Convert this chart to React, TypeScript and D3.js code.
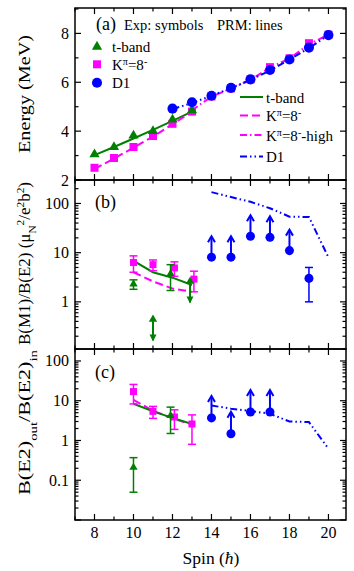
import React, { useEffect, useRef } from 'react';
import * as d3 from 'd3';

// ---- panel (a): energies (MeV) ----
const tBandSpin = [8, 9, 10, 11, 12, 13];
const tBandEnergy = [3.05, 3.35, 3.82, 4.0, 4.47, 4.85];
const k8Spin = [8, 9, 10, 11, 12, 13, 14, 15, 16, 17, 18, 19, 20];
const k8Energy = [2.5, 2.9, 3.35, 3.8, 4.3, 4.8, 5.42, 5.75, 6.12, 6.62, 6.98, 7.6, 7.95];
const d1Spin = [12, 13, 14, 15, 16, 17, 18, 19, 20];
const d1Energy = [4.92, 5.18, 5.45, 5.77, 6.12, 6.5, 6.93, 7.42, 7.93];
// PRM lines
const tBandPrmEnergy = [3.02, 3.35, 3.7, 4.05, 4.42, 4.8];
const k8PrmSpin = [8, 9, 10, 11, 12, 13];
const k8PrmEnergy = [2.45, 2.88, 3.32, 3.78, 4.28, 4.8];
const k8HighSpin = [13, 14, 15, 16, 17, 18, 19, 20];
const k8HighEnergy = [4.85, 5.42, 5.74, 6.1, 6.6, 6.97, 7.55, 7.95];
const d1PrmEnergy = [4.9, 5.15, 5.45, 5.76, 6.1, 6.48, 6.93, 7.4, 7.93];

// ---- panel (b): B(M1)/B(E2) ----
const bTBandSpin = [10, 11.9];
const bTBandVal = [2.3, 3.7];
const bTBandErr = [0.5, 2.0];
const bTBandUpperSpin = [11, 12.9];
const bTBandUpperVal = [0.44, 2.6];
const bK8Spin = [10, 11, 12.1, 13.1];
const bK8Val = [6.3, 5.7, 4.9, 2.9];
const bK8Err = [2.3, 1.4, 1.6, 1.3];
const bD1Spin = [19];
const bD1Val = [3.0];
const bD1Err = [2.0];
const bD1LowerSpin = [14, 15, 16, 17, 18];
const bD1LowerVal = [8.1, 8.1, 21.5, 20.5, 11];
const prmSpinLow = [10, 11, 12, 13];
const bTBandPrm = [6.8, 4.0, 3.1, 2.2];
const bK8Prm = [4.0, 2.6, 1.86, 1.6];
const prmSpinHigh = [14, 15, 16, 17, 18, 19, 20];
const bD1Prm = [170, 135, 108, 80, 54, 53, 8];

// ---- panel (c): B(E2)out/B(E2)in ----
const cTBandSpin = [10, 11.9];
const cTBandVal = [0.21, 4.2];
const cTBandErr = [0.16, 2.7];
const cK8Spin = [10, 11, 12.1, 13];
const cK8Val = [17, 5.4, 3.9, 2.6];
const cK8Err = [8.7, 1.8, 2.0, 1.8];
const cD1LowerSpin = [14, 15, 16, 17];
const cD1LowerVal = [3.7, 1.48, 5.2, 5.2];
const cTBandPrm = [8.4, 5.4, 3.7, 2.6];
const cK8Prm = [10.5, 5.6, 3.6, 2.5];
const cD1Prm = [7.6, 6.3, 5.5, 4.7, 3.0, 2.9, 0.62];

const xTicks = [8, 10, 12, 14, 16, 18, 20];

const GREEN = '#008000';
const MAGENTA = '#ff00ff';
const BLUE = '#0000ff';
const FONT = 'Liberation Serif, Times New Roman, serif';

function App() {
  const svgRef = useRef(null);

  useEffect(() => {
    const width = 354;
    const height = 571;
    const left = 75;
    const right = 346;
    const panels = { a: [8, 180], b: [180, 349], c: [349, 520] };

    const svg = d3.select(svgRef.current)
      .attr('width', width)
      .attr('height', height);
    svg.selectAll('*').remove();

    const x = d3.scaleLinear().domain([7, 20.9]).range([left, right]);
    const yA = d3.scaleLinear().domain([2, 9.04]).range([panels.a[1], panels.a[0]]);
    const yB = d3.scaleLog().domain([0.11, 300]).range([panels.b[1], panels.b[0]]);
    const yC = d3.scaleLog().domain([0.01, 200]).range([panels.c[1], panels.c[0]]);

    const layer = svg.append('g').attr('font-family', FONT);

    // frames and ticks (ticks point inwards on all four sides)
    function frame(top, bottom, yScale, isLog, majors, minors) {
      const g = layer.append('g');
      g.append('rect')
        .attr('x', left).attr('y', top)
        .attr('width', right - left).attr('height', bottom - top)
        .attr('fill', 'none').attr('stroke', '#000').attr('stroke-width', 1.5);

      d3.range(7, 21).forEach(v => {
        const len = v % 2 === 0 ? 6 : 3.5;
        g.append('line').attr('x1', x(v)).attr('x2', x(v))
          .attr('y1', bottom).attr('y2', bottom - len)
          .attr('stroke', '#000').attr('stroke-width', 1.2);
        g.append('line').attr('x1', x(v)).attr('x2', x(v))
          .attr('y1', top).attr('y2', top + len)
          .attr('stroke', '#000').attr('stroke-width', 1.2);
      });

      const all = isLog ? yScale.ticks() : minors.concat(majors);
      all.forEach(v => {
        const major = isLog ? Math.abs(Math.log10(v) - Math.round(Math.log10(v))) < 1e-6 : majors.includes(v);
        const len = major ? 6 : 3.5;
        const yy = yScale(v);
        if (yy < top - 0.5 || yy > bottom + 0.5) return;
        g.append('line').attr('x1', left).attr('x2', left + len)
          .attr('y1', yy).attr('y2', yy).attr('stroke', '#000').attr('stroke-width', 1.2);
        g.append('line').attr('x1', right).attr('x2', right - len)
          .attr('y1', yy).attr('y2', yy).attr('stroke', '#000').attr('stroke-width', 1.2);
        if (major && (!isLog || yy < bottom - 3)) {
          g.append('text')
            .attr('x', left - 6).attr('y', yy + 5.5)
            .attr('text-anchor', 'end')
            .attr('font-size', 16)
            .text(isLog ? d3.format('~g')(v) : v);
        }
      });
    }

    frame(panels.a[0], panels.a[1], yA, false, [2, 4, 6, 8], [3, 5, 7, 9]);
    frame(panels.b[0], panels.b[1], yB, true);
    frame(panels.c[0], panels.c[1], yC, true);

    // x tick labels
    xTicks.forEach(v => {
      layer.append('text')
        .attr('x', x(v)).attr('y', 538)
        .attr('text-anchor', 'middle')
        .attr('font-size', 16)
        .text(v);
    });

    const spinLabel = layer.append('text')
      .attr('x', 211).attr('y', 564)
      .attr('text-anchor', 'middle')
      .attr('font-size', 17.5);
    spinLabel.append('tspan').text('Spin (');
    spinLabel.append('tspan').attr('font-style', 'italic').text('ħ');
    spinLabel.append('tspan').text(')');

    // rotated y labels, stretched along the text to the length in the figure
    function yLabel(cy, length, parts) {
      const t = layer.append('text')
        .attr('text-anchor', 'middle')
        .attr('font-size', 16.5);
      parts.forEach(p => {
        const s = t.append('tspan').text(p[0]);
        if (p[1] === 'sup') s.attr('baseline-shift', 'super').attr('font-size', 11);
        if (p[1] === 'sub') s.attr('baseline-shift', 'sub').attr('font-size', 11);
      });
      const natural = t.node().getComputedTextLength() || length;
      t.attr('transform', `translate(30,${cy}) rotate(-90) scale(${length / natural},1)`);
    }
    yLabel(94, 118, [['Energy (MeV)']]);
    yLabel(263.5, 163, [['B(M1)/B(E2)  (μ'], ['N', 'sub'], ['2', 'sup'], ['/e'], ['2', 'sup'], ['b'], ['2', 'sup'], [')']]);
    yLabel(422.5, 145, [['B(E2)'], ['out', 'sub'], ['/B(E2)'], ['in', 'sub']]);

    // drawing helpers
    function line(xs, ys, yScale, color, dash) {
      const gen = d3.line().x(d => x(d[0])).y(d => yScale(d[1]));
      layer.append('path')
        .datum(xs.map((s, i) => [s, ys[i]]))
        .attr('d', gen)
        .attr('fill', 'none')
        .attr('stroke', color)
        .attr('stroke-width', 2)
        .attr('stroke-dasharray', dash || null);
    }

    function markers(xs, ys, yScale, type, size, color) {
      const sym = d3.symbol().type(type).size(size);
      xs.forEach((s, i) => {
        layer.append('path')
          .attr('transform', `translate(${x(s)},${yScale(ys[i])})`)
          .attr('d', sym())
          .attr('fill', color);
      });
    }

    function errorBars(xs, ys, errs, yScale, color) {
      xs.forEach((s, i) => {
        const cx = x(s);
        const y1 = yScale(ys[i] - errs[i]);
        const y2 = yScale(ys[i] + errs[i]);
        const g = layer.append('g').attr('stroke', color).attr('stroke-width', 1.5);
        g.append('line').attr('x1', cx).attr('x2', cx).attr('y1', y1).attr('y2', y2);
        g.append('line').attr('x1', cx - 4).attr('x2', cx + 4).attr('y1', y1).attr('y2', y1);
        g.append('line').attr('x1', cx - 4).attr('x2', cx + 4).attr('y1', y2).attr('y2', y2);
      });
    }

    function arrows(xs, ys, yScale, dir, len, color, filled) {
      xs.forEach((s, i) => {
        const cx = x(s);
        const y0 = yScale(ys[i]);
        const tip = y0 + dir * len;
        layer.append('line')
          .attr('x1', cx).attr('x2', cx).attr('y1', y0).attr('y2', tip - dir * 1)
          .attr('stroke', color).attr('stroke-width', 2);
        if (filled) {
          layer.append('path')
            .attr('d', `M${cx - 3.5},${tip - dir * 7}L${cx},${tip}L${cx + 3.5},${tip - dir * 7}Z`)
            .attr('fill', color);
        } else {
          layer.append('path')
            .attr('d', `M${cx - 3.5},${tip - dir * 6}L${cx},${tip}L${cx + 3.5},${tip - dir * 6}`)
            .attr('fill', 'none').attr('stroke', color).attr('stroke-width', 2);
        }
      });
    }

    const dashK8 = '8,4';
    const dashHigh = '7,3,1.5,3';
    const dashD1 = '7,3,1.5,3,1.5,3';

    // ---- panel (a) ----
    line(tBandSpin, tBandPrmEnergy, yA, GREEN);
    line(k8PrmSpin, k8PrmEnergy, yA, MAGENTA, dashK8);
    line(k8HighSpin, k8HighEnergy, yA, MAGENTA, dashHigh);
    line(d1Spin, d1PrmEnergy, yA, BLUE, dashD1);
    markers(k8Spin, k8Energy, yA, d3.symbolSquare, 64, MAGENTA);
    markers(tBandSpin, tBandEnergy, yA, d3.symbolTriangle, 45, GREEN);
    markers(d1Spin, d1Energy, yA, d3.symbolCircle, 80, BLUE);

    layer.append('text').attr('x', 96).attr('y', 30).attr('font-size', 18).text('(a)');
    layer.append('text').attr('x', 124).attr('y', 30).attr('font-size', 14.5).text('Exp: symbols');
    layer.append('text').attr('x', 217).attr('y', 30).attr('font-size', 14.5).text('PRM: lines');

    function richText(tx, ty, parts) {
      const t = layer.append('text').attr('x', tx).attr('y', ty).attr('font-size', 15);
      parts.forEach(p => {
        const s = t.append('tspan').text(p[0]);
        if (p[1] === 'sup') s.attr('baseline-shift', 'super').attr('font-size', 10);
      });
    }

    // symbol legend
    const symLegend = [
      [d3.symbolTriangle, 45, GREEN, 46.7, [['t-band']]],
      [d3.symbolSquare, 64, MAGENTA, 64.3, [['K'], ['π', 'sup'], ['=8'], ['-', 'sup']]],
      [d3.symbolCircle, 80, BLUE, 82.7, [['D1']]],
    ];
    symLegend.forEach(l => {
      layer.append('path')
        .attr('transform', `translate(97,${l[3]})`)
        .attr('d', d3.symbol().type(l[0]).size(l[1])())
        .attr('fill', l[2]);
      richText(112, l[3] + 5.3, l[4]);
    });

    // line legend
    const lineLegend = [
      [GREEN, null, 97, [['t-band']]],
      [MAGENTA, dashK8, 115.5, [['K'], ['π', 'sup'], ['=8'], ['-', 'sup']]],
      [MAGENTA, dashHigh, 135, [['K'], ['π', 'sup'], ['=8'], ['-', 'sup'], ['-high']]],
      [BLUE, dashD1, 156.5, [['D1']]],
    ];
    lineLegend.forEach(l => {
      layer.append('line')
        .attr('x1', 240).attr('x2', 263).attr('y1', l[2]).attr('y2', l[2])
        .attr('stroke', l[0]).attr('stroke-width', 2)
        .attr('stroke-dasharray', l[1]);
      richText(266, l[2] + 5.5, l[3]);
    });

    // ---- panel (b) ----
    line(prmSpinLow, bTBandPrm, yB, GREEN);
    line(prmSpinLow, bK8Prm, yB, MAGENTA, dashK8);
    line(prmSpinHigh, bD1Prm, yB, BLUE, dashD1);
    errorBars(bK8Spin, bK8Val, bK8Err, yB, MAGENTA);
    markers(bK8Spin, bK8Val, yB, d3.symbolSquare, 49, MAGENTA);
    errorBars(bTBandSpin, bTBandVal, bTBandErr, yB, GREEN);
    markers(bTBandSpin, bTBandVal, yB, d3.symbolTriangle, 30, GREEN);
    arrows(bTBandUpperSpin, bTBandUpperVal, yB, 1, 22, GREEN, true);
    markers(bTBandUpperSpin, bTBandUpperVal, yB, d3.symbolTriangle, 30, GREEN);
    errorBars(bD1Spin, bD1Val, bD1Err, yB, BLUE);
    markers(bD1Spin, bD1Val, yB, d3.symbolCircle, 64, BLUE);
    arrows(bD1LowerSpin, bD1LowerVal, yB, -1, 21, BLUE, false);
    markers(bD1LowerSpin, bD1LowerVal, yB, d3.symbolCircle, 64, BLUE);
    layer.append('text').attr('x', 95).attr('y', 208).attr('font-size', 18).text('(b)');

    // ---- panel (c) ----
    line(prmSpinLow, cK8Prm, yC, MAGENTA, dashK8);
    line(prmSpinLow, cTBandPrm, yC, GREEN);
    line(prmSpinHigh, cD1Prm, yC, BLUE, dashD1);
    errorBars(cK8Spin, cK8Val, cK8Err, yC, MAGENTA);
    markers(cK8Spin, cK8Val, yC, d3.symbolSquare, 49, MAGENTA);
    errorBars(cTBandSpin, cTBandVal, cTBandErr, yC, GREEN);
    markers(cTBandSpin, cTBandVal, yC, d3.symbolTriangle, 30, GREEN);
    arrows(cD1LowerSpin, cD1LowerVal, yC, -1, 22, BLUE, false);
    markers(cD1LowerSpin, cD1LowerVal, yC, d3.symbolCircle, 64, BLUE);
    layer.append('text').attr('x', 95).attr('y', 378).attr('font-size', 18).text('(c)');
  }, []);

  return (
    <svg
      ref={svgRef}
      fontFamily={FONT}
      style={{ position: 'absolute', left: 0, top: 0, background: '#fff' }}
    />
  );
}

export default App;
